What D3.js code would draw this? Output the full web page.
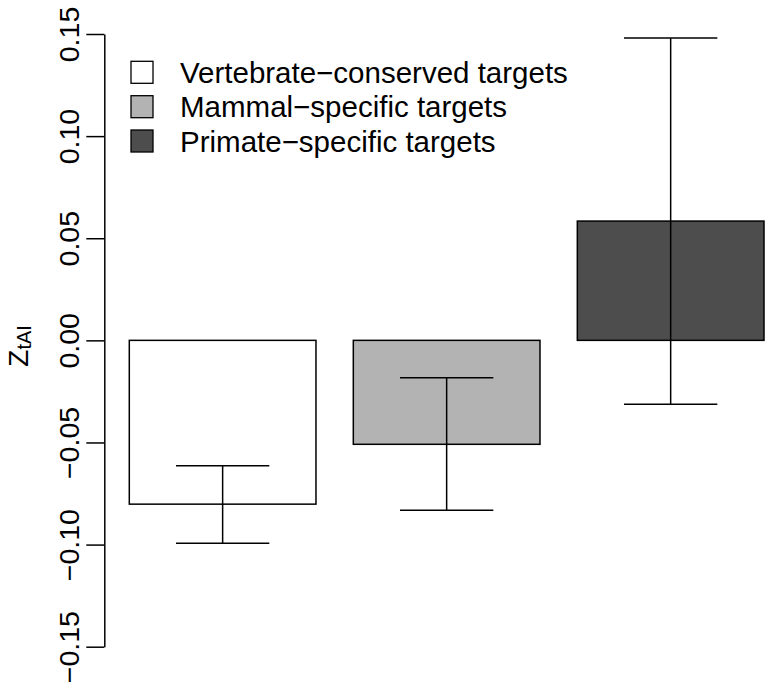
<!DOCTYPE html>
<html>
<head>
<meta charset="utf-8">
<script src="https://cdn.jsdelivr.net/npm/d3@7"></script>
<style>
  html, body { margin: 0; padding: 0; background: #fff; }
  svg { display: block; font-family: "Liberation Sans", Arial, Helvetica, sans-serif; }
</style>
</head>
<body>
<svg id="chart" width="771" height="690"></svg>
<script>
const categories = ["Vertebrate\u2212conserved targets", "Mammal\u2212specific targets", "Primate\u2212specific targets"];
const values = [-0.0802, -0.0509, 0.0584];
const lowerCI = [-0.0993, -0.0832, -0.0313];
const upperCI = [-0.0614, -0.0183, 0.1481];
const fills = ["#ffffff", "#b3b3b3", "#4d4d4d"];
const yTicks = [-0.15, -0.10, -0.05, 0.00, 0.05, 0.10, 0.15];

const svg = d3.select("#chart");
const FS = 28.5;
const LFS = 29.5;

const y = d3.scaleLinear().domain([-0.15, 0.15]).range([646.7, 34]);
// bar positions in R barplot units (width 1, space 0.2)
const x = d3.scaleLinear().domain([0.2, 3.6]).range([129.3, 764]);
const barLeft = i => 0.2 + 1.2 * i;

// bars
svg.append("g").selectAll("rect").data(values).join("rect")
  .attr("x", (d, i) => x(barLeft(i)))
  .attr("width", (d, i) => x(barLeft(i) + 1) - x(barLeft(i)))
  .attr("y", d => y(Math.max(0, d)))
  .attr("height", d => Math.abs(y(d) - y(0)))
  .attr("fill", (d, i) => fills[i])
  .attr("stroke", "#000")
  .attr("stroke-width", 1.5);

// error bars
const eb = svg.append("g").attr("stroke", "#000").attr("stroke-width", 1.5);
values.forEach((d, i) => {
  const c = barLeft(i) + 0.5;
  eb.append("line").attr("x1", x(c)).attr("x2", x(c)).attr("y1", y(lowerCI[i])).attr("y2", y(upperCI[i]));
  eb.append("line").attr("x1", x(c - 0.25)).attr("x2", x(c + 0.25)).attr("y1", y(lowerCI[i])).attr("y2", y(lowerCI[i]));
  eb.append("line").attr("x1", x(c - 0.25)).attr("x2", x(c + 0.25)).attr("y1", y(upperCI[i])).attr("y2", y(upperCI[i]));
});

// y axis
const axisX = 104.3;
const yAxis = d3.axisLeft(y).tickValues(yTicks).tickSize(18).tickSizeOuter(0)
  .tickFormat(d3.format(".2f"));
const gAxis = svg.append("g").attr("transform", `translate(${axisX},0)`).call(yAxis);
gAxis.select(".domain").attr("stroke", "#000").attr("stroke-width", 1.5);
gAxis.selectAll(".tick line").attr("stroke", "#000").attr("stroke-width", 1.5);
gAxis.selectAll(".tick text")
  .attr("font-size", FS)
  .attr("font-family", "Liberation Sans, Arial, sans-serif")
  .attr("fill", "#000")
  .attr("transform", "rotate(-90)")
  .attr("x", 0)
  .attr("y", -25)
  .attr("dy", null)
  .attr("text-anchor", "middle");

// y label
const yl = svg.append("text")
  .attr("transform", "translate(28,346) rotate(-90)")
  .attr("text-anchor", "middle")
  .attr("font-size", FS)
  .attr("fill", "#000");
yl.append("tspan").text("Z");
yl.append("tspan").attr("font-size", FS * 0.7).attr("dy", 3).text("tAI");

// legend
const leg = svg.append("g");
const rowY = [72.3, 106.7, 141];
categories.forEach((c, i) => {
  leg.append("rect").attr("x", 131).attr("y", rowY[i] - 11).attr("width", 22).attr("height", 22)
    .attr("fill", fills[i]).attr("stroke", "#000").attr("stroke-width", 1.3);
  leg.append("text").attr("x", 180).attr("y", rowY[i]).attr("dy", "0.36em")
    .attr("font-size", LFS).attr("fill", "#000").text(c);
});
</script>
</body>
</html>
